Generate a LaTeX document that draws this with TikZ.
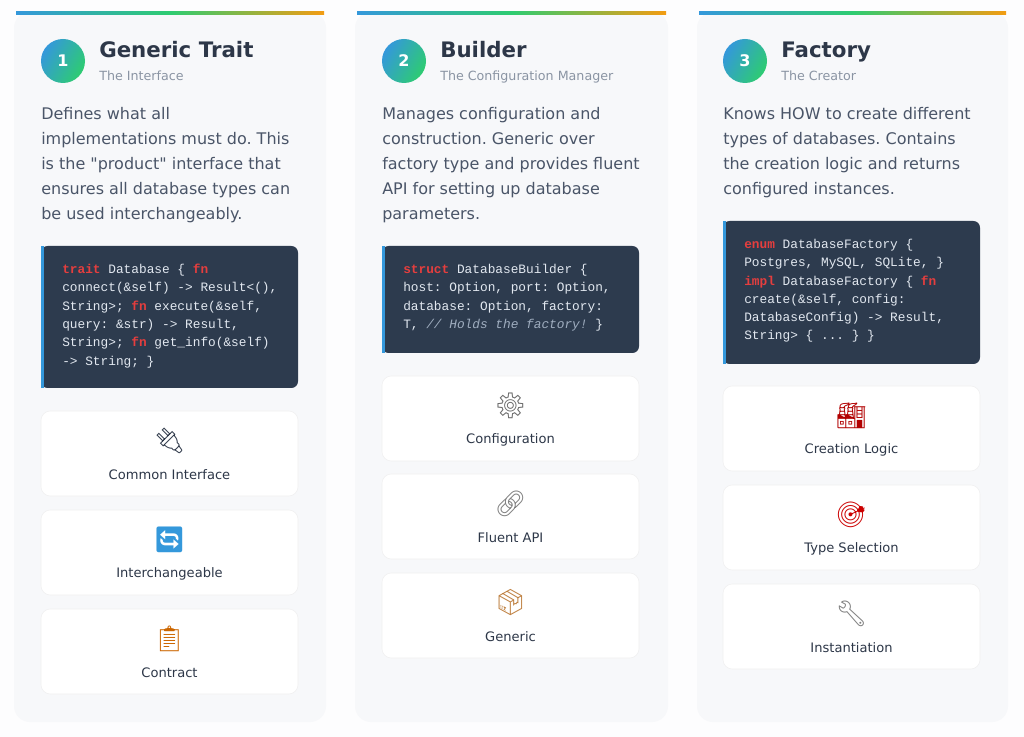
\documentclass[tikz,border=0pt]{standalone}
\usepackage{fontspec}
\setmainfont{DejaVu Sans}
\setmonofont{Liberation Mono}
\newfontfamily\emojifont{Noto Emoji}
\usetikzlibrary{positioning}
\frenchspacing
\definecolor{pagebg}{HTML}{FDFDFE}
\definecolor{cardbg}{HTML}{F7F8FA}
\definecolor{ink}{HTML}{2D3748}
\definecolor{body}{HTML}{4A5568}
\definecolor{muted}{HTML}{8A94A3}
\definecolor{codebg}{HTML}{2D3B4E}
\definecolor{codefg}{HTML}{E2E8F0}
\definecolor{kw}{HTML}{E53E3E}
\definecolor{cmt}{HTML}{A0AEC0}
\definecolor{accblue}{HTML}{3498DB}
\definecolor{accgreen}{HTML}{2ECC71}
\definecolor{accorange}{HTML}{F39C12}
\newcommand{\kw}[1]{{\color{kw}\bfseries #1}}
\tikzset{
  card/.style={fill=cardbg, rounded corners=12pt, draw=none},
  topbar/.style={left color=accblue, right color=accorange, middle color=accgreen, draw=none},
  numdot/.style={circle, minimum size=33pt, inner sep=0pt, left color=accblue, right color=accgreen, shading angle=60, text=white, font=\bfseries\fontsize{12}{12}\selectfont},
  title/.style={anchor=base west, inner sep=0pt, text=ink, font=\bfseries\fontsize{16}{16}\selectfont},
  subtitle/.style={anchor=base west, inner sep=0pt, text=muted, font=\fontsize{9.5}{9.5}\selectfont},
  desc/.style={anchor=north west, inner sep=0pt, align=left, text=body, font=\fontsize{12}{18.75}\selectfont},
  codebox/.style={fill=codebg, rounded corners=5pt, draw=none},
  codetext/.style={anchor=north west, inner sep=0pt, align=left, text=codefg, font=\ttfamily\fontsize{9.6}{13.7}\selectfont},
  feature/.style={fill=white, rounded corners=7pt, draw=black!6},
  ficon/.style={inner sep=0pt, font=\emojifont\fontsize{19}{19}\selectfont},
  flabel/.style={inner sep=0pt, text=ink, font=\fontsize{9.8}{9.8}\selectfont}
}
\begin{document}
\begin{tikzpicture}[x=0.75pt, y=-0.75pt]
\useasboundingbox[fill=pagebg] (0,0) rectangle (1024,737);
% cards
\foreach \cx/\cw in {14/312, 355/313, 697/311} {
  \fill[card] (\cx,12) rectangle ++(\cw,710);
  \fill[topbar] (\cx+2,12) rectangle ++(\cw-4,3);
}
% card 1
\node[numdot] (n1) at (63,61) {1};
\node[title] (t1) at (99,58) {Generic Trait};
\node[subtitle] (s1) at (99,81) {The Interface};
\node[desc] (d1) at (41,107) {Defines what all\\implementations must do. This\\is the \textquotedbl product\textquotedbl{} interface that\\ensures all database types can\\be used interchangeably.};
\fill[codebox] (41,246) rectangle (298,388);
\fill[accblue] (41,246) rectangle (44,388);
\node[codetext] (c1) at (62,264) {\kw{trait} Database \{ \kw{fn}\\connect(\&self) -> Result<(),\\String>; \kw{fn} execute(\&self,\\query: \&str) -> Result,\\String>; \kw{fn} get\_info(\&self)\\-> String; \}};
% card 2
\node[numdot] (n2) at (404,61) {2};
\node[title] (t2) at (440,58) {Builder};
\node[subtitle] (s2) at (440,81) {The Configuration Manager};
\node[desc] (d2) at (382,107) {Manages configuration and\\construction. Generic over\\factory type and provides fluent\\API for setting up database\\parameters.};
\fill[codebox] (382,246) rectangle (639,353);
\fill[accblue] (382,246) rectangle (385,353);
\node[codetext] (c2) at (403,264) {\kw{struct} DatabaseBuilder \{\\host: Option, port: Option,\\database: Option, factory:\\T, {\color{cmt}\itshape // Holds the factory!} \}};
% card 3
\node[numdot] (n3) at (745,61) {3};
\node[title] (t3) at (781,58) {Factory};
\node[subtitle] (s3) at (781,81) {The Creator};
\node[desc] (d3) at (723,107) {Knows HOW to create different\\types of databases. Contains\\the creation logic and returns\\configured instances.};
\fill[codebox] (723,221) rectangle (980,364);
\fill[accblue] (723,221) rectangle (726,364);
\node[codetext] (c3) at (744,239) {\kw{enum} DatabaseFactory \{\\Postgres, MySQL, SQLite, \}\\\kw{impl} DatabaseFactory \{ \kw{fn}\\create(\&self, config:\\DatabaseConfig) -> Result,\\String> \{ ... \} \}};
% feature tiles
\foreach \fx/\fy/\ic/\col/\lab/\nm in {
  41/411/🔌/ink/Common Interface/f11,
  41/510/🔄/accblue/Interchangeable/f12,
  41/609/📋/orange!80!black/Contract/f13,
  382/376/⚙/gray!80!black/Configuration/f21,
  382/474/🔗/gray/Fluent API/f22,
  382/573/📦/brown/Generic/f23,
  723/386/🏭/red!70!black/Creation Logic/f31,
  723/485/🎯/red!80!black/Type Selection/f32,
  723/584/🔧/gray/Instantiation/f33} {
  \fill[feature] (\fx,\fy) rectangle ++(257,85);
  \node[ficon, text=\col] (\nm i) at (\fx+128.5,\fy+30) {\ic};
  \node[flabel] (\nm l) at (\fx+128.5,\fy+64) {\lab};
}
\end{tikzpicture}
\end{document}
